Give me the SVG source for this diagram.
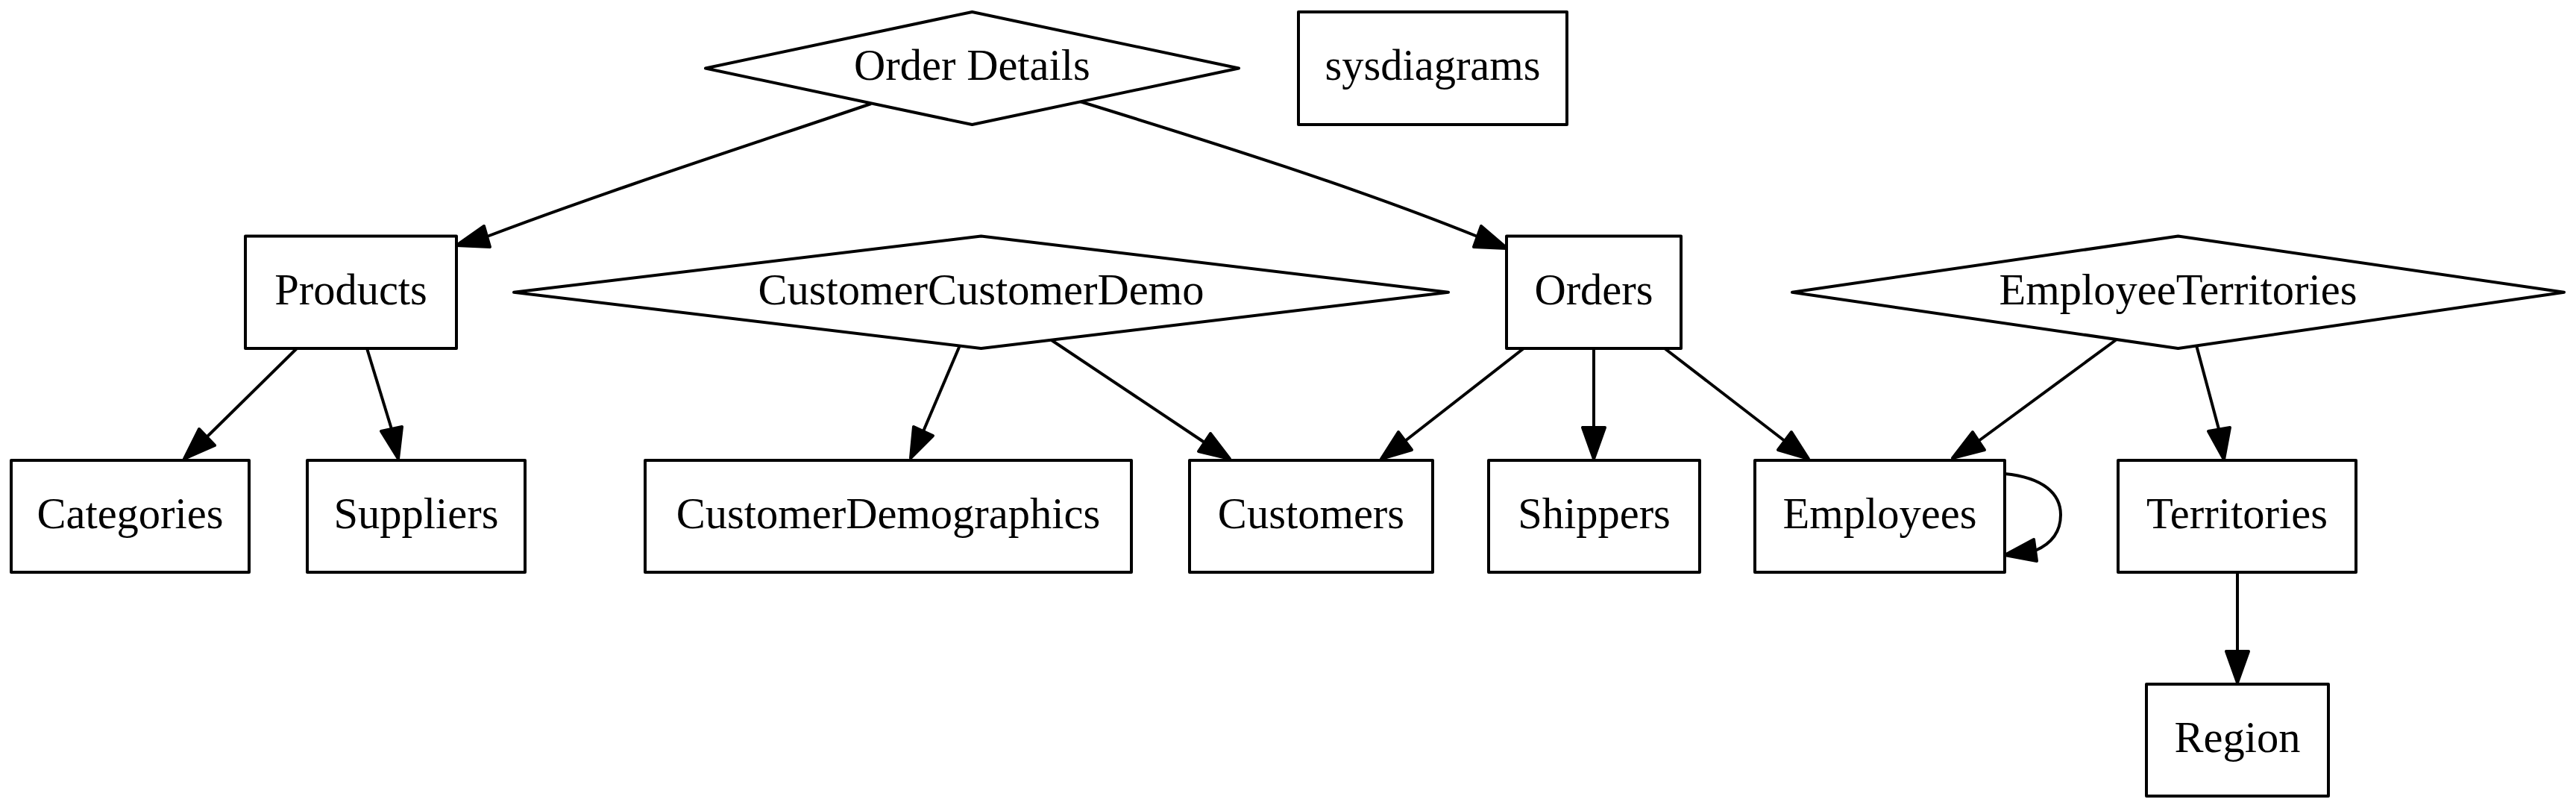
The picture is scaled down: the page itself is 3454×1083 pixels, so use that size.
<svg xmlns="http://www.w3.org/2000/svg" width="3454" height="1083" viewBox="0 0 3454 1083">
<style>
.n{fill:#fff;stroke:#000;stroke-width:4;stroke-linejoin:round}
.t{font-family:"Liberation Serif","Times New Roman",serif;font-size:58.5px;text-anchor:middle;fill:#000}
.e{fill:none;stroke:#000;stroke-width:4}
.a{fill:#000;stroke:#000;stroke-width:4;stroke-linejoin:round}
</style>
<rect x="0" y="0" width="3454" height="1083" fill="#fff"/>
<g id="connectors">
<path class="e" d="M1168,139 C1000,196 820,254 653,317"/>
<polygon class="a" points="612,329 649,303 657,331"/>
<path class="e" d="M1448,136 C1630,192 1820,252 1981,317"/>
<polygon class="a" points="2021,333 1976,331 1986,303"/>
<path class="e" d="M398,467 L277,586"/>
<polygon class="a" points="247,615 267,575 288,597"/>
<path class="e" d="M492,467 L525,575"/>
<polygon class="a" points="534,615 511,578 539,572"/>
<path class="e" d="M1287,463 L1238,578"/>
<polygon class="a" points="1221,614 1225,572 1251,584"/>
<path class="e" d="M1410,456 L1615,593"/>
<polygon class="a" points="1649,615 1607,605 1623,581"/>
<path class="e" d="M2043,467 L1884,591"/>
<polygon class="a" points="1852,615 1875,579 1893,603"/>
<path class="e" d="M2137,467 L2137,573"/>
<polygon class="a" points="2137,615 2122,573 2152,573"/>
<path class="e" d="M2232,467 L2393,591"/>
<polygon class="a" points="2425,615 2384,603 2402,579"/>
<path class="e" d="M2838,455 L2653,591"/>
<polygon class="a" points="2618,614 2645,579 2661,603"/>
<path class="e" d="M2945,463 L2975,575"/>
<polygon class="a" points="2982,616 2961,578 2990,573"/>
<path class="e" d="M3000,767 L3000,873"/>
<polygon class="a" points="3000,915 2985,873 3015,873"/>
<path class="e" d="M2688,635 C2740,640 2763,662 2763,690 C2763,712 2752,728 2729,738"/>
<polygon class="a" points="2688,744 2727,723 2731,752"/>
</g>
<g id="node-order-details">
<polygon class="n" points="1303.5,16 1661,91.5 1303.5,167 946,91.5"/>
<text class="t" x="1303.5" y="107">Order Details</text>
</g>
<g id="node-sysdiagrams">
<rect class="n" x="1741" y="16" width="360" height="151"/>
<text class="t" x="1921" y="107">sysdiagrams</text>
</g>
<g id="node-products">
<rect class="n" x="329" y="316.5" width="283" height="150.5"/>
<text class="t" x="470.5" y="407.5">Products</text>
</g>
<g id="node-customercustomerdemo">
<polygon class="n" points="1315.5,316.5 1942,391.75 1315.5,467 689,391.75"/>
<text class="t" x="1315.5" y="407.5">CustomerCustomerDemo</text>
</g>
<g id="node-orders">
<rect class="n" x="2020" y="316.5" width="234" height="150.5"/>
<text class="t" x="2137" y="407.5">Orders</text>
</g>
<g id="node-employeeterritories">
<polygon class="n" points="2920.5,316.5 3438,391.75 2920.5,467 2403,391.75"/>
<text class="t" x="2920.5" y="407.5">EmployeeTerritories</text>
</g>
<g id="node-categories">
<rect class="n" x="15" y="617" width="319" height="150"/>
<text class="t" x="174.5" y="707.5">Categories</text>
</g>
<g id="node-suppliers">
<rect class="n" x="412" y="617" width="292" height="150"/>
<text class="t" x="558" y="707.5">Suppliers</text>
</g>
<g id="node-customerdemographics">
<rect class="n" x="865" y="617" width="652" height="150"/>
<text class="t" x="1191" y="707.5">CustomerDemographics</text>
</g>
<g id="node-customers">
<rect class="n" x="1595" y="617" width="326" height="150"/>
<text class="t" x="1758" y="707.5">Customers</text>
</g>
<g id="node-shippers">
<rect class="n" x="1996" y="617" width="283" height="150"/>
<text class="t" x="2137.5" y="707.5">Shippers</text>
</g>
<g id="node-employees">
<rect class="n" x="2353" y="617" width="335" height="150"/>
<text class="t" x="2520.5" y="707.5">Employees</text>
</g>
<g id="node-territories">
<rect class="n" x="2840" y="617" width="319" height="150"/>
<text class="t" x="2999.5" y="707.5">Territories</text>
</g>
<g id="node-region">
<rect class="n" x="2878" y="917" width="244" height="150"/>
<text class="t" x="3000" y="1007.5">Region</text>
</g>
</svg>
